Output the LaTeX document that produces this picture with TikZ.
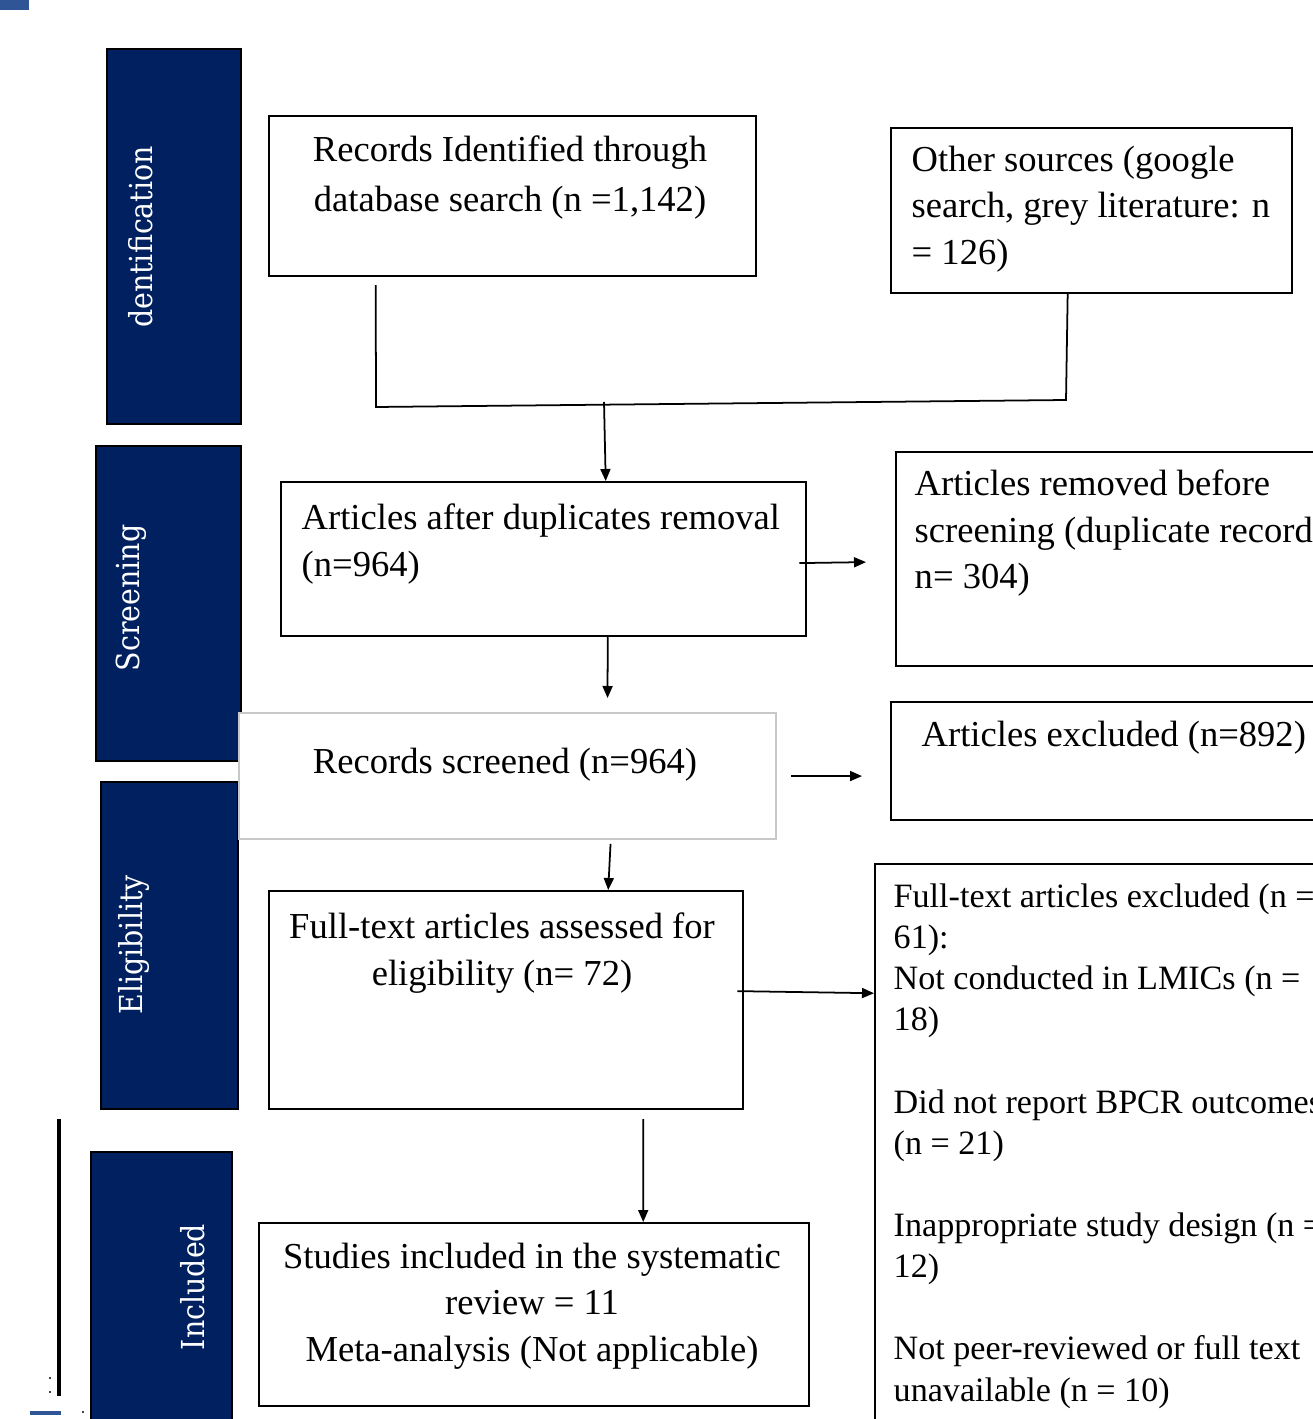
\documentclass[tikz,border=0pt]{standalone}
\usepackage{fontspec}
\setmainfont{Liberation Serif}
\newfontfamily\barfont{DejaVu Serif Condensed}
\usetikzlibrary{positioning,arrows.meta}
\definecolor{barblue}{HTML}{002060}
\definecolor{markblue}{HTML}{2F5597}
\definecolor{lightframe}{HTML}{C8C8C8}

\begin{document}
\begin{tikzpicture}[
        x=0.01cm, y=-0.01cm,
        stage/.style={draw=black, line width=0.6pt, fill=barblue, anchor=north west, inner sep=0pt},
        stagetext/.style={text=white, rotate=90, inner sep=0pt, font=\barfont\fontsize{9}{11}\selectfont},
        box/.style={draw, line width=0.6pt, fill=white, anchor=north west, inner sep=0pt},
        txt/.style={inner sep=0pt, font=\fontsize{10.4}{13.3}\selectfont},
        arr/.style={line width=0.5pt, -{Triangle[length=1.2mm, width=1mm]}},
        link/.style={line width=0.5pt}
    ]
    \useasboundingbox (0,0) rectangle (1313,1419);
    \clip (0,0) rectangle (1313,1419);

    % stage bars
    \node[stage, minimum width=1.34cm, minimum height=3.75cm] (ident) at (106,48) {};
    \node[stage, minimum width=1.45cm, minimum height=3.15cm] (screen) at (95,445) {};
    \node[stage, minimum width=1.37cm, minimum height=3.27cm] (elig) at (100,781) {};
    \node[stage, minimum width=1.41cm, minimum height=2.90cm] (incl) at (90,1151) {};
    \node[stagetext] (ident-label) at (141,237) {dentification};
    \node[stagetext] (screen-label) at (131,598) {Screening};
    \node[stagetext] (elig-label) at (134,945) {Eligibility};
    \node[stagetext] (incl-label) at (193,1287) {Included};

    % boxes
    \node[box, minimum width=4.87cm, minimum height=1.60cm] (recs) at (268,115) {};
    \node[box, minimum width=4.01cm, minimum height=1.65cm] (other) at (890,127) {};
    \node[box, minimum width=5.25cm, minimum height=1.54cm] (dedup) at (280,481) {};
    \node[box, minimum width=4.40cm, minimum height=2.14cm] (removed) at (895,451) {};
    \node[box, draw=lightframe, line width=0.5pt, minimum width=5.37cm, minimum height=1.26cm] (screened) at (238,712) {};
    \node[box, minimum width=4.40cm, minimum height=1.18cm] (excluded) at (890,701) {};
    \node[box, minimum width=4.74cm, minimum height=2.18cm] (fulltext) at (268,890) {};
    \node[box, minimum width=4.60cm, minimum height=5.80cm] (ftexcl) at (874,863) {};
    \node[box, minimum width=5.50cm, minimum height=1.83cm] (included) at (258,1222) {};

    % box texts
    \node[txt, anchor=north, align=center, font=\fontsize{10.4}{14.2}\selectfont] (recs-label) at (510,135)
        {Records Identified through\\database search (n =1,142)};
    \node[txt, anchor=north west, align=left] (other-label) at (911,145)
        {Other sources (google\\search, grey literature: n\\= 126)};
    \node[txt, anchor=north west, align=left] (dedup-label) at (301,503)
        {Articles after duplicates removal\\(n=964)};
    \node[txt, anchor=north west, align=left] (removed-label) at (914,469)
        {Articles removed before\\screening (duplicate records\\n= 304)};
    \node[txt, anchor=north] (screened-label) at (505,747) {Records screened (n=964)};
    \node[txt, anchor=north west] (excluded-label) at (921,720) {Articles excluded (n=892)};
    \node[txt, anchor=north, align=center] (fulltext-label) at (502,912)
        {Full-text articles assessed for\\eligibility (n= 72)};
    \node[txt, anchor=north west, align=left, font=\fontsize{9.7}{11.7}\selectfont] (ftexcl-label) at (893,883)
        {Full-text articles excluded (n =\\61):\\Not conducted in LMICs (n =\\18)\\[11.7pt]
         Did not report BPCR outcomes\\(n = 21)\\[11.7pt]
         Inappropriate study design (n =\\12)\\[11.7pt]
         Not peer-reviewed or full text\\unavailable (n = 10)};
    \node[txt, anchor=north, align=center] (included-label) at (532,1242)
        {Studies included in the systematic\\review = 11\\Meta-analysis (Not applicable)};

    % connectors
    \coordinate (j1) at (376,407);
    \coordinate (j2) at (1066,400);
    \coordinate (j3) at (604,402);
    \draw[link] ([shift={(-137,8)}]recs.south) -- (j1) -- (j2) -- ([shift={(-24,0)}]other.south);
    \draw[arr] (j3) -- ([shift={(62,0)}]dedup.north);
    \draw[arr] ([shift={(-8,4)}]dedup.east) -- ([shift={(-29,3)}]removed.west);
    \draw[arr] ([shift={(64,0)}]dedup.south) -- ([shift={(100,-14)}]screened.north);
    \draw[arr] ([shift={(14,0)}]screened.east) -- ([shift={(-28,15)}]excluded.west);
    \draw[arr] ([shift={(103,4)}]screened.south) -- ([shift={(102,0)}]fulltext.north);
    \draw[arr] ([shift={(-7,-9)}]fulltext.east) -- ([shift={(0,-161)}]ftexcl.west);
    \draw[arr] ([shift={(137,9)}]fulltext.south) -- ([shift={(109,0)}]included.north);

    % stray marks at the edge
    \fill[markblue] (0,0) rectangle (29,10);
    \draw[line width=0.9pt] (59,1119) -- (59,1396);
    \draw[markblue, line width=1.2pt] (30,1413) -- (61,1413);
    \foreach \p in {(50,1378), (50,1392), (83,1412)}
        \fill \p circle (1.2);
\end{tikzpicture}
\end{document}
